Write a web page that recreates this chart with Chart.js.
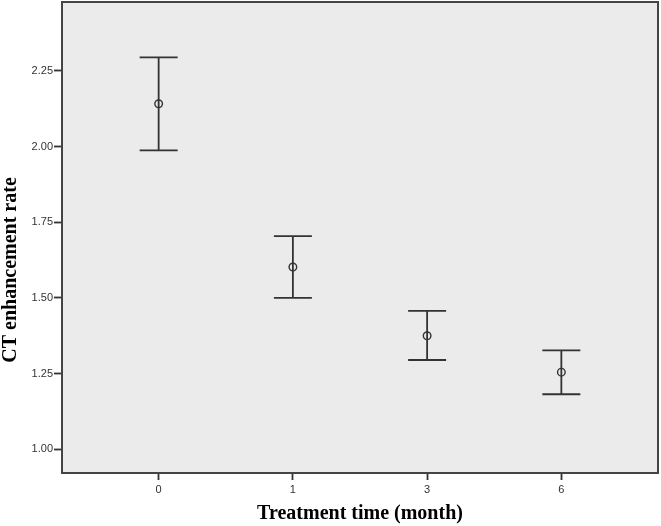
<!DOCTYPE html>
<html>
<head>
<meta charset="utf-8">
<script src="https://cdn.jsdelivr.net/npm/chart.js@4.4.1/dist/chart.umd.min.js"></script>
<style>
  html, body { margin: 0; padding: 0; background: #fff; }
  #wrap { width: 661px; height: 526px; }
</style>
</head>
<body>
<div id="wrap"><canvas id="chart"></canvas></div>
<script>
// treatment time groups (month) and mean +/- 95% CI
const categories = ['0', '1', '3', '6'];
const means = [2.141, 1.602, 1.375, 1.255];
const lower = [1.987, 1.500, 1.295, 1.182];
const upper = [2.294, 1.704, 1.457, 1.327];
const yTicks = [1.00, 1.25, 1.50, 1.75, 2.00, 2.25];

const lineColor = '#333';

// plot background, frame, error bars and the y title
const spssPlugin = {
  id: 'spss',
  beforeDatasetsDraw(chart) {
    const { ctx, chartArea: a, scales } = chart;
    ctx.save();
    ctx.fillStyle = '#ebebeb';
    ctx.fillRect(a.left, a.top, a.right - a.left, a.bottom - a.top);

    ctx.strokeStyle = lineColor;
    ctx.lineWidth = 1.8;
    categories.forEach((c, i) => {
      const x = scales.x.getPixelForValue(i);
      const yl = scales.y.getPixelForValue(lower[i]);
      const yu = scales.y.getPixelForValue(upper[i]);
      ctx.beginPath();
      ctx.moveTo(x, yu);
      ctx.lineTo(x, yl);
      ctx.moveTo(x - 19, yu);
      ctx.lineTo(x + 19, yu);
      ctx.moveTo(x - 19, yl);
      ctx.lineTo(x + 19, yl);
      ctx.stroke();
    });
    ctx.restore();
  },
  afterDraw(chart) {
    const { ctx, chartArea: a } = chart;
    ctx.save();
    ctx.strokeStyle = '#444';
    ctx.lineWidth = 2;
    ctx.strokeRect(a.left, a.top, a.right - a.left, a.bottom - a.top);

    ctx.fillStyle = '#000';
    ctx.font = 'bold 20px "Liberation Serif", "Times New Roman", serif';
    ctx.textAlign = 'center';
    ctx.textBaseline = 'middle';
    ctx.translate(11, 270);
    ctx.rotate(-Math.PI / 2);
    ctx.fillText('CT enhancement rate', 0, 0);
    ctx.restore();
  }
};

const ctx = document.getElementById('chart').getContext('2d');
new Chart(ctx, {
  type: 'scatter',
  data: {
    datasets: [{
      data: means.map((m, i) => ({ x: i, y: m })),
      pointStyle: 'circle',
      pointRadius: 3.8,
      pointHoverRadius: 3.8,
      pointBorderWidth: 1.4,
      pointBorderColor: lineColor,
      pointBackgroundColor: 'rgba(0,0,0,0)',
      showLine: false
    }]
  },
  options: {
    responsive: true,
    maintainAspectRatio: false,
    animation: false,
    layout: { autoPadding: false, padding: { top: 2, right: 3, left: 0, bottom: 0 } },
    plugins: {
      legend: { display: false },
      tooltip: { enabled: false }
    },
    scales: {
      x: {
        type: 'linear',
        min: -0.72,
        max: 3.72,
        afterBuildTicks: scale => {
          scale.ticks = categories.map((c, i) => ({ value: i }));
        },
        afterFit: scale => { scale.height = 53; },
        ticks: {
          callback: v => categories[v],
          color: '#333',
          padding: 3,
          maxRotation: 0,
          font: { family: '"Liberation Sans", Arial, sans-serif', size: 11 }
        },
        grid: {
          drawOnChartArea: false,
          drawTicks: true,
          tickLength: 7,
          tickColor: lineColor,
          tickWidth: 1.8
        },
        border: { display: false },
        title: {
          display: true,
          text: 'Treatment time (month)',
          color: '#000',
          padding: { top: 6, bottom: 0 },
          font: { family: '"Liberation Serif", "Times New Roman", serif', size: 20, weight: 'bold' }
        }
      },
      y: {
        min: 0.922,
        max: 2.477,
        afterBuildTicks: scale => {
          scale.ticks = yTicks.map(v => ({ value: v }));
        },
        afterFit: scale => {
          scale.width = 62;
          scale.paddingTop = 0;
          scale.paddingBottom = 0;
        },
        ticks: {
          callback: v => v.toFixed(2),
          color: '#333',
          padding: 1,
          font: { family: '"Liberation Sans", Arial, sans-serif', size: 11 }
        },
        grid: {
          drawOnChartArea: false,
          drawTicks: true,
          tickLength: 8,
          tickColor: lineColor,
          tickWidth: 1.8
        },
        border: { display: false }
      }
    }
  },
  plugins: [spssPlugin]
});
</script>
</body>
</html>
